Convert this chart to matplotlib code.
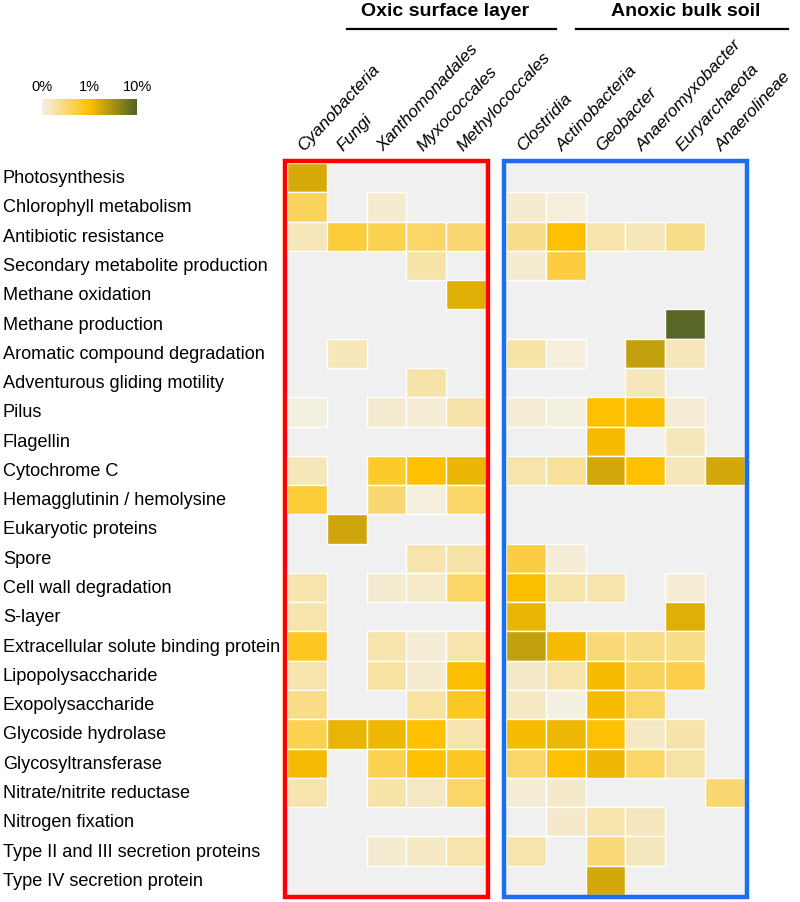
import matplotlib
matplotlib.use("Agg")
import matplotlib.pyplot as plt
import numpy as np
from matplotlib.colors import LinearSegmentedColormap, FuncNorm
from matplotlib.patches import Rectangle
from matplotlib import transforms

plt.rcParams["font.family"] = ["Liberation Sans", "DejaVu Sans"]

n = np.nan

functions = [
    "Photosynthesis", "Chlorophyll metabolism", "Antibiotic resistance",
    "Secondary metabolite production", "Methane oxidation", "Methane production",
    "Aromatic compound degradation", "Adventurous gliding motility", "Pilus",
    "Flagellin", "Cytochrome C", "Hemagglutinin / hemolysine",
    "Eukaryotic proteins", "Spore", "Cell wall degradation", "S-layer",
    "Extracellular solute binding protein", "Lipopolysaccharide",
    "Exopolysaccharide", "Glycoside hydrolase", "Glycosyltransferase",
    "Nitrate/nitrite reductase", "Nitrogen fixation",
    "Type II and III secretion proteins", "Type IV secretion protein",
]

oxic_taxa = ["Cyanobacteria", "Fungi", "Xanthomonadales", "Myxococcales",
             "Methylococcales"]
anoxic_taxa = ["Clostridia", "Actinobacteria", "Geobacter", "Anaeromyxobacter",
               "Euryarchaeota", "Anaerolineae"]

# relative abundance (%), nan = not detected
oxic_vals = [
    [1.7, n, n, n, n],
    [0.6, n, 0.1, n, n],
    [0.2, 0.75, 0.65, 0.55, 0.5],
    [n, n, n, 0.28, n],
    [n, n, n, n, 1.5],
    [n, n, n, n, n],
    [n, 0.2, n, n, n],
    [n, n, n, 0.28, n],
    [0.03, n, 0.1, 0.08, 0.27],
    [n, n, n, n, n],
    [0.2, n, 0.8, 1.0, 1.3],
    [0.75, n, 0.5, 0.04, 0.55],
    [n, 1.9, n, n, n],
    [n, n, n, 0.25, 0.28],
    [0.25, n, 0.1, 0.13, 0.55],
    [0.25, n, n, n, n],
    [0.85, n, 0.25, 0.08, 0.25],
    [0.25, n, 0.3, 0.1, 1.05],
    [0.42, n, n, 0.3, 0.85],
    [0.65, 1.35, 1.25, 1.0, 0.25],
    [1.15, n, 0.65, 1.0, 0.85],
    [0.25, n, 0.28, 0.15, 0.55],
    [n, n, n, n, n],
    [n, n, 0.1, 0.15, 0.25],
    [n, n, n, n, n],
]

anoxic_vals = [
    [n, n, n, n, n, n],
    [0.1, 0.05, n, n, n, n],
    [0.4, 1.0, 0.25, 0.2, 0.4, n],
    [0.1, 0.72, n, n, n, n],
    [n, n, n, n, n, n],
    [n, n, n, n, 8.7, n],
    [0.28, 0.05, n, 2.2, 0.2, n],
    [n, n, n, 0.2, n, n],
    [0.08, 0.03, 1.0, 1.05, 0.08, n],
    [n, n, 1.1, n, 0.2, n],
    [0.25, 0.33, 1.8, 1.0, 0.2, 1.8],
    [n, n, n, n, n, n],
    [n, n, n, n, n, n],
    [0.72, 0.08, n, n, n, n],
    [1.05, 0.25, 0.25, n, 0.08, n],
    [1.3, n, n, n, 1.5, n],
    [2.2, 1.15, 0.48, 0.42, 0.42, n],
    [0.12, 0.25, 1.1, 0.6, 0.68, n],
    [0.15, 0.03, 1.1, 0.55, n, n],
    [1.1, 1.25, 1.0, 0.15, 0.28, n],
    [0.55, 1.0, 1.25, 0.55, 0.28, n],
    [0.08, 0.12, n, n, n, 0.5],
    [n, 0.12, 0.25, 0.18, n, n],
    [0.25, n, 0.48, 0.18, n, n],
    [n, n, 1.8, n, n, n],
]

cbar_ticks = [0, 1, 10]
cbar_labels = ["0%", "1%", "10%"]


def fwd(v):
    v = np.asarray(v, dtype=float)
    return np.where(v <= 1, 0.5 * v, 0.5 + 0.5 * np.log10(np.maximum(v, 1)))


def inv(p):
    p = np.asarray(p, dtype=float)
    return np.where(p <= 0.5, 2 * p, 10 ** (2 * np.minimum(p, 1.5) - 1))


cmap = LinearSegmentedColormap.from_list(
    "abund", [(0, "#f3f0e6"), (0.5, "#ffc000"), (1, "#4f6228")])
norm = FuncNorm((fwd, inv), vmin=0, vmax=10)

W, H = 800, 903
fig = plt.figure(figsize=(W / 100, H / 100), dpi=100)

# heatmap area in pixels
x0, y0, y1 = 287, 164, 896
pitch = 39.8
gap = 0.5
ncol = len(oxic_taxa) + len(anoxic_taxa) + gap
ax = fig.add_axes([x0 / W, 1 - y1 / H, ncol * pitch / W, (y1 - y0) / H])
nrow = len(functions)
ax.set_xlim(0, ncol)
ax.set_ylim(nrow, 0)
ax.axis("off")

blocks = [
    (0, oxic_taxa, oxic_vals, "#ff0000"),
    (len(oxic_taxa) + gap, anoxic_taxa, anoxic_vals, "#1a6ff0"),
]
dx = 2.0 / pitch
dy = 2.2 / ((y1 - y0) / nrow)
for start, taxa, vals, edge in blocks:
    nc = len(taxa)
    ax.add_patch(Rectangle((start, 0), nc, nrow, facecolor="#f0f0f0",
                           edgecolor="none", zorder=0))
    arr = np.array(vals, dtype=float)
    for i in range(nrow):
        for j in range(nc):
            v = arr[i, j]
            if np.isnan(v):
                continue
            ax.add_patch(Rectangle((start + j, i), 1, 1,
                                   facecolor=cmap(norm(v)),
                                   edgecolor="white", lw=1.0, zorder=1))
    ax.add_patch(Rectangle((start - dx, -dy), nc + 2 * dx, nrow + 2 * dy,
                           facecolor="none", edgecolor=edge, lw=3.2,
                           zorder=3, clip_on=False))
    for j, t in enumerate(taxa):
        ax.annotate(t, xy=(start + j + 0.5, 1), xycoords=("data", "axes fraction"),
                    xytext=(-3, 12), textcoords="offset pixels",
                    rotation=47, rotation_mode="anchor", ha="left",
                    va="baseline", fontsize=12.5, fontstyle="italic")

# row labels
tr = transforms.blended_transform_factory(fig.transFigure, ax.transData)
for i, f in enumerate(functions):
    ax.text(3 / W, i + 0.5, f, transform=tr, ha="left", va="center",
            fontsize=13.1)

# group headers
fig.text(445 / W, 1 - 12 / H, "Oxic surface layer", ha="center", va="center",
         fontsize=14, fontweight="bold")
fig.text(686 / W, 1 - 12 / H, "Anoxic bulk soil", ha="center", va="center",
         fontsize=14, fontweight="bold")
fig.add_artist(plt.Line2D([347 / W, 556 / W], [1 - 30 / H, 1 - 30 / H],
                          color="black", lw=1.6))
fig.add_artist(plt.Line2D([576 / W, 788 / W], [1 - 30 / H, 1 - 30 / H],
                          color="black", lw=1.6))

# colour key
cax = fig.add_axes([42 / W, 1 - 116 / H, 95 / W, 16.5 / H])
sm = plt.cm.ScalarMappable(norm=norm, cmap=cmap)
cb = fig.colorbar(sm, cax=cax, orientation="horizontal")
cb.outline.set_visible(False)
cb.set_ticks(cbar_ticks)
cb.set_ticklabels(cbar_labels)
cax.xaxis.set_ticks_position("top")
cax.tick_params(length=0, labelsize=10.5, pad=4)
cax.minorticks_off()

fig.savefig("out.png", dpi=100)
